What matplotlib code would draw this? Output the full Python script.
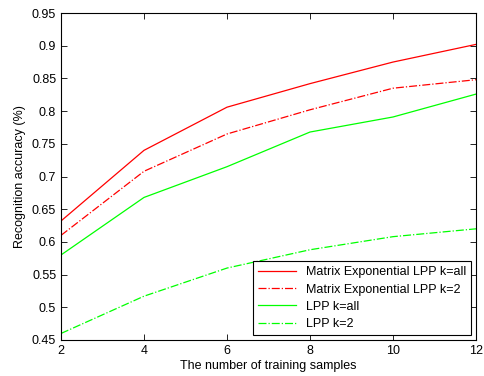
import matplotlib
matplotlib.use('Agg')
import matplotlib.pyplot as plt

plt.rcParams['font.family'] = ['Liberation Sans', 'DejaVu Sans']

## data
samples = [2, 4, 6, 8, 10, 12]
melpp_all = [0.632, 0.740, 0.806, 0.842, 0.875, 0.902]
melpp_k2 = [0.610, 0.708, 0.765, 0.802, 0.835, 0.848]
lpp_all = [0.580, 0.668, 0.715, 0.768, 0.791, 0.826]
lpp_k2 = [0.460, 0.517, 0.560, 0.588, 0.608, 0.620]

fig = plt.figure(figsize=(4.84, 3.76), dpi=100)
ax = fig.add_axes([61/484, 36/376, 415/484, 327/376])

ax.plot(samples, melpp_all, '-', color='#ff0000', lw=0.9, label='Matrix Exponential LPP k=all')
ax.plot(samples, melpp_k2, '-.', color='#ff0000', lw=0.9, label='Matrix Exponential LPP k=2')
ax.plot(samples, lpp_all, '-', color='#00ff00', lw=0.9, label='LPP k=all')
ax.plot(samples, lpp_k2, '-.', color='#00ff00', lw=0.9, label='LPP k=2')

ax.set_xlim(2, 12)
ax.set_ylim(0.45, 0.95)
ax.set_xticks(samples)
ax.set_yticks([0.45, 0.5, 0.55, 0.6, 0.65, 0.7, 0.75, 0.8, 0.85, 0.9, 0.95])
ax.set_yticklabels(['0.45', '0.5', '0.55', '0.6', '0.65', '0.7', '0.75', '0.8', '0.85', '0.9', '0.95'])
ax.tick_params(direction='in', top=True, right=True, labelsize=9, length=4, width=0.6)
for s in ax.spines.values():
	s.set_linewidth(0.8)

ax.set_xlabel('The number of training samples', fontsize=9, labelpad=2)
ax.set_ylabel('Recognition accuracy (%)', fontsize=9, labelpad=4)

leg = ax.legend(loc='lower right', fontsize=9, fancybox=False, framealpha=1,
	edgecolor='black', borderaxespad=0.4, handlelength=3.0, labelspacing=0.42)
leg.get_frame().set_linewidth(0.8)

fig.savefig('out.png', dpi=100)
